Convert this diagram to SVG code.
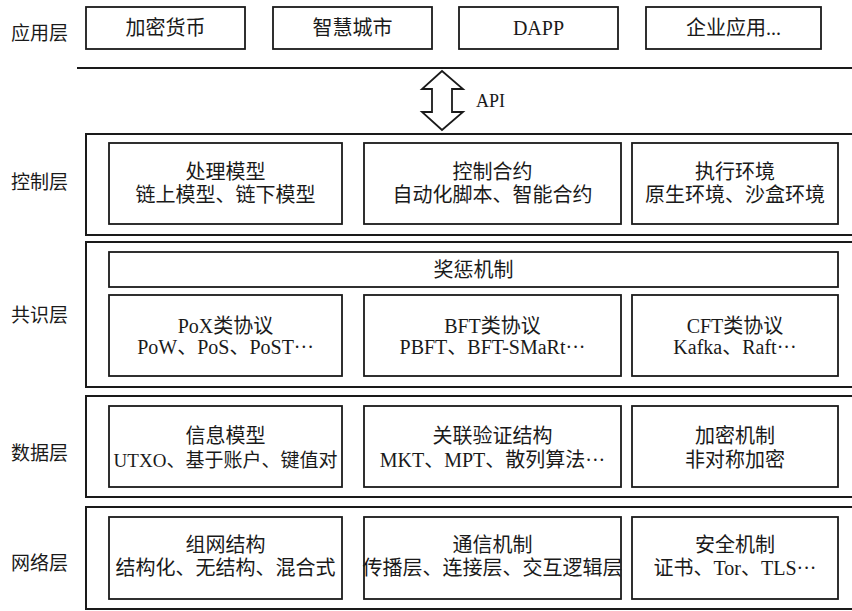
<svg xmlns="http://www.w3.org/2000/svg" width="852" height="611" viewBox="0 0 852 611">
<style>
.bg{fill:#ffffff}
.box{fill:#ffffff;stroke:#1a1a1a;stroke-width:1.8}
.outer{fill:#ffffff;stroke:#1a1a1a;stroke-width:2}
.t{font-family:"Liberation Serif","Noto Sans CJK SC",serif;font-size:20px;fill:#1a1a1a;text-anchor:middle;dominant-baseline:central}
.lbl{font-family:"Liberation Serif","Noto Sans CJK SC",serif;font-size:19px;fill:#1a1a1a;text-anchor:start;dominant-baseline:central}
.line{stroke:#1a1a1a;stroke-width:2;fill:none}
.arrow{fill:#ffffff;stroke:#1a1a1a;stroke-width:1.8;stroke-linejoin:miter}
</style>
<rect class="bg" x="0" y="0" width="852" height="611"/>

<g id="labels">
<text class="lbl" x="11" y="33">应用层</text>
<text class="lbl" x="11" y="182">控制层</text>
<text class="lbl" x="11" y="315">共识层</text>
<text class="lbl" x="11" y="453">数据层</text>
<text class="lbl" x="11" y="563">网络层</text>
</g>

<g id="app-layer">
<g id="app-crypto"><rect class="box" x="86" y="7" width="159" height="42"/><text class="t" x="165.5" y="28">加密货币</text></g>
<g id="app-smartcity"><rect class="box" x="273" y="7" width="159" height="42"/><text class="t" x="352.5" y="28">智慧城市</text></g>
<g id="app-dapp"><rect class="box" x="459" y="7" width="159" height="42"/><text class="t" x="538.5" y="28">DAPP</text></g>
<g id="app-enterprise"><rect class="box" x="646" y="7" width="175" height="42"/><text class="t" x="733.5" y="28">企业应用...</text></g>
</g>

<g id="connectors">
<line class="line" x1="77" y1="68" x2="856" y2="68"/>
<polygon class="arrow" points="442,71 463,89 452,89 452,112 463,112 442,130 422,112 432,112 432,89 422,89"/>
<text class="lbl" x="476" y="101" style="font-size:18px">API</text>
</g>

<g id="control-layer">
<rect class="outer" x="86" y="134" width="772" height="101"/>
<g id="ctrl-process"><rect class="box" x="109" y="143" width="233" height="81"/><text class="t" x="225.5" y="172">处理模型</text><text class="t" x="225.5" y="195">链上模型、链下模型</text></g>
<g id="ctrl-contract"><rect class="box" x="364" y="143" width="257" height="81"/><text class="t" x="492.5" y="172">控制合约</text><text class="t" x="492.5" y="195">自动化脚本、智能合约</text></g>
<g id="ctrl-env"><rect class="box" x="632" y="143" width="206" height="81"/><text class="t" x="735" y="172">执行环境</text><text class="t" x="735" y="195">原生环境、沙盒环境</text></g>
</g>

<g id="consensus-layer">
<rect class="outer" x="86" y="242" width="772" height="145"/>
<g id="cons-reward"><rect class="box" x="109" y="252" width="729" height="35"/><text class="t" x="473.5" y="270">奖惩机制</text></g>
<g id="cons-pox"><rect class="box" x="109" y="295" width="233" height="81"/><text class="t" x="225.5" y="326">PoX类协议</text><text class="t" x="225.5" y="347">PoW、PoS、PoST···</text></g>
<g id="cons-bft"><rect class="box" x="364" y="295" width="257" height="81"/><text class="t" x="492.5" y="326">BFT类协议</text><text class="t" x="492.5" y="347">PBFT、BFT-SMaRt···</text></g>
<g id="cons-cft"><rect class="box" x="632" y="295" width="206" height="81"/><text class="t" x="735" y="326">CFT类协议</text><text class="t" x="735" y="347">Kafka、Raft···</text></g>
</g>

<g id="data-layer">
<rect class="outer" x="86" y="396" width="772" height="101"/>
<g id="data-info"><rect class="box" x="109" y="406" width="233" height="81"/><text class="t" x="225.5" y="436">信息模型</text><text class="t" x="225.5" y="460" style="font-size:19px">UTXO、基于账户、键值对</text></g>
<g id="data-verify"><rect class="box" x="364" y="406" width="257" height="81"/><text class="t" x="492.5" y="436">关联验证结构</text><text class="t" x="492.5" y="460">MKT、MPT、散列算法···</text></g>
<g id="data-crypto"><rect class="box" x="632" y="406" width="206" height="81"/><text class="t" x="735" y="436">加密机制</text><text class="t" x="735" y="460">非对称加密</text></g>
</g>

<g id="network-layer">
<rect class="outer" x="86" y="507" width="772" height="102"/>
<g id="net-topology"><rect class="box" x="109" y="517" width="233" height="82"/><text class="t" x="225.5" y="545">组网结构</text><text class="t" x="225.5" y="568">结构化、无结构、混合式</text></g>
<g id="net-comm"><rect class="box" x="364" y="517" width="257" height="82"/><text class="t" x="492.5" y="545">通信机制</text><text class="t" x="492.5" y="568">传播层、连接层、交互逻辑层</text></g>
<g id="net-security"><rect class="box" x="632" y="517" width="206" height="82"/><text class="t" x="735" y="545">安全机制</text><text class="t" x="735" y="568">证书、Tor、TLS···</text></g>
</g>
</svg>
